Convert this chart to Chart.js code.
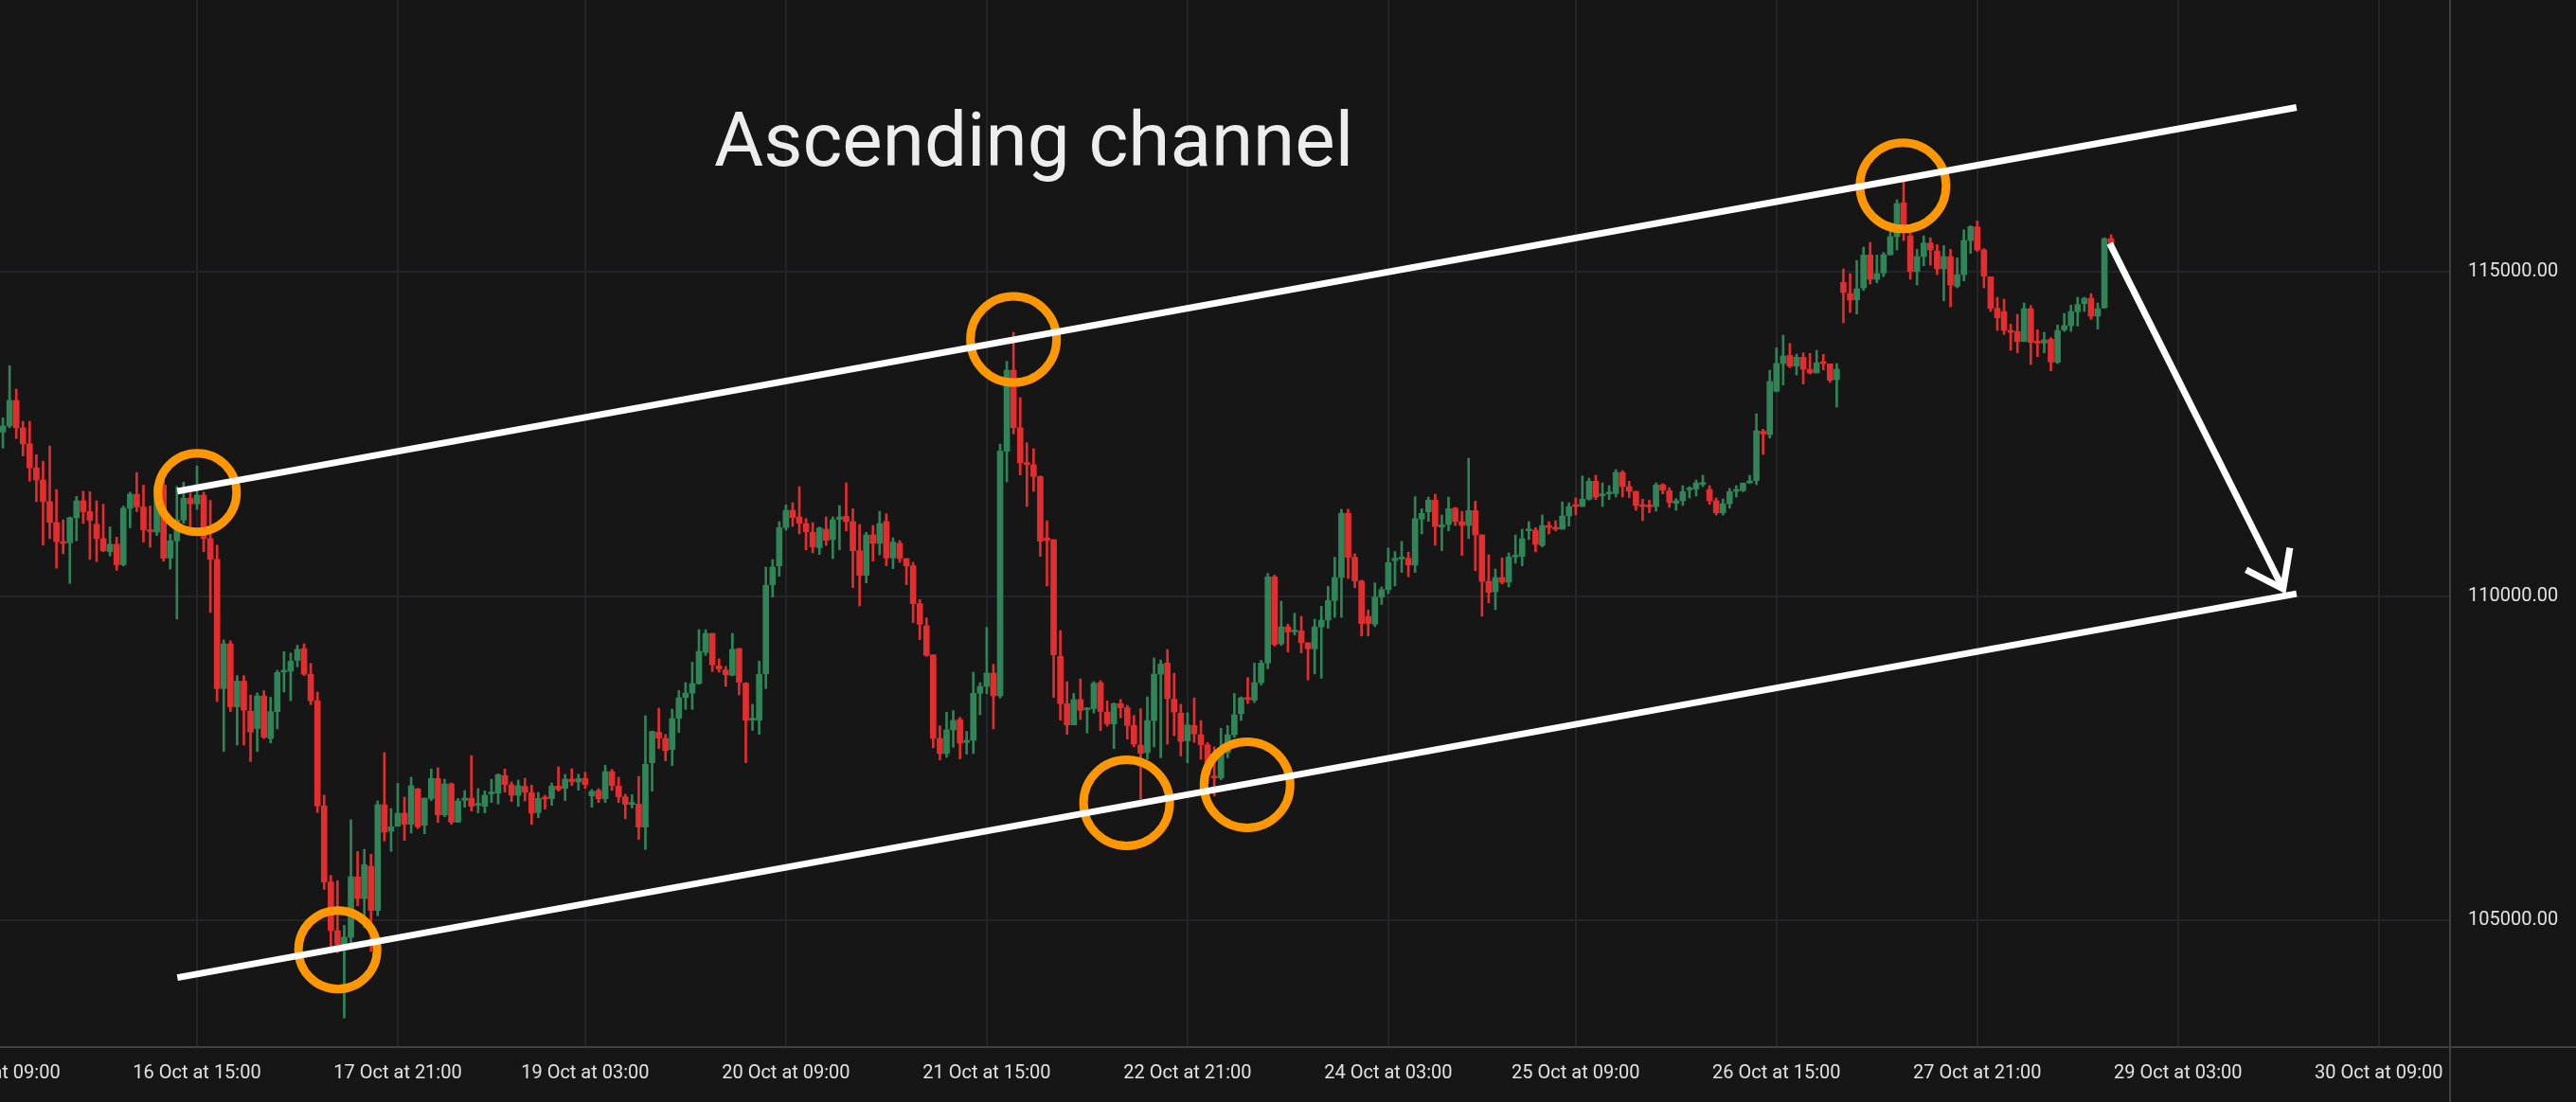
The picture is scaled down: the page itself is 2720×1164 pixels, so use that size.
<!DOCTYPE html>
<html>
<head>
<meta charset="utf-8">
<title>Ascending channel</title>
<script src="https://cdn.jsdelivr.net/npm/chart.js@4.4.1/dist/chart.umd.min.js"></script>
<style>
  html, body { margin: 0; padding: 0; background: #161616; overflow: hidden; }
  canvas { display: block; }
</style>
</head>
<body>
<canvas id="chart" width="2720" height="1164"></canvas>
<script>
// ======== Data (hourly candles) ========
const opens = [
  112530, 112624, 113019, 112597, 112349, 111980, 111792, 111457, 111135, 110840,
  110820, 111209, 111470, 111302, 111108, 110887, 110686, 110800, 110484, 111356,
  111571, 111376, 111021, 110987, 111712, 110585, 110853, 111175, 111510, 111423,
  111557, 110887, 110565, 108573, 109264, 108292, 108687, 108224, 107956, 108459,
  107802, 108218, 108828, 108841, 109009, 109190, 108794, 108386, 106763, 105589,
  104838, 104617, 104737, 105670, 105334, 105832, 105150, 106781, 106372, 106450,
  106650, 106479, 107025, 106465, 106878, 107185, 106625, 107102, 106513, 106849,
  106883, 106771, 106757, 106947, 106961, 107229, 107088, 106927, 107063, 106966,
  106659, 106888, 106874, 107068, 107034, 107175, 107132, 107185, 106917, 107000,
  106874, 107292, 107068, 106903, 106786, 106791, 106436, 107429, 107901, 107804,
  107633, 108115, 108436, 108504, 108650, 109132, 109424, 108924, 108860, 108778,
  109191, 108656, 108086, 108086, 108802, 110175, 110467, 111056, 111324, 111222,
  111119, 110983, 110745, 111032, 110871, 111183, 111231, 111149, 110701, 110321,
  110944, 110813, 111149, 110589, 110813, 110579, 110467, 109883, 109542, 109094,
  107804, 107570, 107936, 108096, 107741, 107775, 108500, 108607, 108812, 108461,
  112234, 113485, 112599, 112049, 112025, 111845, 110895, 110871, 109070, 108340,
  108012, 108404, 108247, 108263, 108664, 108211, 108028, 108341, 108278, 108002,
  107700, 107585, 108080, 108795, 108967, 108409, 108195, 107767, 108002, 107861,
  107705, 107220, 107194, 107585, 107861, 108185, 108430, 108393, 108664, 108967,
  110297, 109264, 109525, 109447, 109463, 109280, 109186, 109525, 109629, 109932,
  110287, 111278, 110599, 110234, 109687, 109567, 109984, 110099, 110547, 110573,
  110584, 110480, 111187, 111299, 111480, 111066, 111105, 111358, 111149, 111090,
  111319, 110944, 110228, 110068, 110287, 110214, 110603, 110613, 111007, 111017,
  110783, 111090, 111051, 111032, 111236, 111402, 111382, 111494, 111772, 111548,
  111577, 111582, 111908, 111689, 111616, 111397, 111392, 111382, 111718, 111626,
  111431, 111470, 111640, 111650, 111723, 111645, 111470, 111285, 111426, 111616,
  111626, 111747, 111782, 112541, 112492, 113160, 113588, 113714, 113549, 113685,
  113500, 113442, 113602, 113583, 113339, 114839, 114668, 114571, 114756, 115262,
  114887, 114985, 115267, 115545, 116070, 115559, 115009, 115238, 115447, 115325,
  115048, 115238, 114780, 114960, 115486, 115695, 115340, 114926, 114440, 114391,
  114089, 114084, 113928, 114435, 113914, 113904, 113962, 113607, 114108, 114172,
  114386, 114513, 114595, 114318, 114449, 115515
];
const highs = [
  112751, 113556, 113194, 112697, 112697, 112181, 112080, 112315, 111644, 111175,
  111222, 111537, 111618, 111611, 111470, 111417, 111068, 110907, 111390, 111604,
  111906, 111712, 111390, 111720, 111805, 110954, 111691, 111758, 111591, 112007,
  111604, 111477, 110786, 109324, 109311, 108774, 108774, 108473, 108506, 108540,
  108439, 108855, 109143, 109123, 109244, 109264, 108962, 108520, 106930, 105690,
  105609, 104919, 106548, 106059, 106092, 106017, 106840, 107584, 106723, 107112,
  106898, 107205, 107034, 106883, 107331, 107351, 107175, 107117, 106878, 107000,
  107540, 107029, 106995, 107175, 107258, 107331, 107132, 107161, 107190, 107083,
  106971, 106927, 107117, 107365, 107248, 107336, 107253, 107282, 107015, 107029,
  107390, 107326, 107205, 106942, 106937, 107219, 108154, 107920, 108271, 107867,
  108256, 108543, 108665, 108981, 109483, 109483, 109424, 109031, 108914, 109425,
  109191, 108666, 108330, 108997, 110448, 110564, 111149, 111406, 111441, 111689,
  111197, 111134, 111066, 111222, 111222, 111397, 111747, 111348, 111105, 110983,
  111090, 111309, 111270, 110900, 110856, 110579, 110520, 109946, 109664, 109094,
  107999, 108208, 108233, 108130, 107911, 108826, 108666, 109518, 108948, 112346,
  113621, 114069, 113062, 112365, 112273, 111854, 111163, 110871, 109469, 108680,
  108498, 108722, 108278, 108680, 108696, 108383, 108352, 108404, 108315, 108158,
  108263, 108445, 109045, 109014, 109176, 108810, 108331, 108200, 108430, 108080,
  107741, 107673, 107960, 108002, 108498, 108445, 108743, 108967, 109009, 110349,
  110323, 109922, 109567, 109734, 109687, 109280, 109645, 109843, 110151, 110599,
  111340, 111340, 110652, 110245, 109786, 110203, 110141, 110740, 110688, 110845,
  110678, 111533, 111348, 111528, 111572, 111251, 111528, 111368, 111309, 112127,
  111465, 110944, 110637, 110418, 110589, 110667, 110944, 111032, 111149, 111056,
  111251, 111149, 111163, 111455, 111441, 111514, 111854, 111820, 111864, 111747,
  111704, 111952, 111937, 111772, 111616, 111494, 111480, 111747, 111733, 111674,
  111504, 111704, 111689, 111791, 111864, 111704, 111514, 111499, 111660, 111704,
  111747, 111864, 112813, 112575, 113485, 113831, 114026, 113899, 113734, 113753,
  113744, 113792, 113729, 113583, 113588, 115048, 114975, 115179, 115384, 115457,
  115262, 115301, 115632, 116114, 116396, 115603, 115350, 115559, 115530, 115423,
  115408, 115350, 115218, 115652, 115715, 115788, 115360, 114926, 114610, 114581,
  114196, 114347, 114522, 114483, 114109, 114070, 113987, 114182, 114362, 114488,
  114610, 114610, 114668, 114522, 115530, 115574
];
const lows = [
  112282, 112597, 112429, 112161, 111772, 111457, 110786, 110887, 110431, 110652,
  110196, 110853, 111121, 110565, 110531, 110686, 110619, 110397, 110464, 111054,
  111302, 110833, 110753, 110934, 110538, 110417, 109646, 111121, 111041, 111336,
  110686, 109747, 108372, 107601, 108218, 107701, 107701, 107447, 107601, 107802,
  107735, 107950, 108520, 108386, 108908, 108774, 108325, 106662, 105475, 104583,
  104496, 103490, 104583, 105220, 104885, 104517, 105067, 106221, 106061, 106450,
  106231, 106343, 106411, 106333, 106844, 106509, 106596, 106479, 106509, 106742,
  106684, 106655, 106655, 106815, 106791, 106976, 106830, 106757, 106840, 106479,
  106581, 106713, 106771, 106990, 106844, 107078, 107005, 107034, 106742, 106815,
  106815, 107000, 106815, 106567, 106732, 106246, 106090, 106990, 107648, 107458,
  107385, 107896, 108251, 108251, 108641, 109084, 108835, 108826, 108607, 108768,
  108476, 107429, 107926, 107867, 108573, 109985, 110306, 111017, 111076, 110959,
  110715, 110667, 110642, 110783, 110579, 110715, 111007, 110131, 109849, 110204,
  110540, 110637, 110467, 110423, 110520, 110175, 109591, 109328, 109070, 107658,
  107473, 107512, 107668, 107488, 107561, 107570, 108169, 108495, 107950, 108427,
  111762, 112502, 111869, 111382, 111616, 110613, 110155, 108437, 108086, 107867,
  108012, 108096, 107887, 108195, 107924, 107992, 107647, 108122, 107793, 107673,
  106865, 107480, 107673, 107506, 107715, 107845, 107533, 107428, 107741, 107480,
  107115, 106917, 107167, 107506, 107819, 108080, 108341, 108357, 108628, 108878,
  109228, 109238, 109139, 109400, 109123, 108706, 108800, 108732, 109504, 109671,
  109671, 110271, 110130, 109384, 109384, 109530, 109870, 110036, 110156, 110365,
  110297, 110365, 110959, 111153, 110783, 110701, 111007, 111090, 110628, 110886,
  110394, 109688, 109897, 109790, 110189, 110141, 110506, 110467, 110871, 110686,
  110759, 110959, 111007, 111032, 111080, 111251, 111382, 111480, 111489, 111382,
  111489, 111528, 111528, 111519, 111324, 111163, 111285, 111309, 111577, 111368,
  111324, 111397, 111514, 111543, 111689, 111416, 111251, 111251, 111358, 111528,
  111611, 111738, 111718, 112185, 112439, 113150, 113257, 113524, 113412, 113271,
  113427, 113442, 113490, 113296, 112916, 114216, 114376, 114352, 114717, 114814,
  114834, 114931, 115262, 115340, 115486, 114887, 114800, 115097, 115106, 114960,
  114556, 114464, 114756, 114863, 115287, 115316, 114756, 114391, 114099, 114035,
  113792, 113753, 113928, 113573, 113695, 113753, 113476, 113588, 114084, 114084,
  114167, 114391, 114269, 114118, 114440, 115413
];
const closes = [
  112624, 113019, 112597, 112349, 111980, 111792, 111457, 111135, 110840, 110813,
  111209, 111470, 111302, 111168, 110887, 110699, 110800, 110484, 111356, 111571,
  111376, 111021, 110994, 111700, 110585, 110853, 111175, 111510, 111423, 111557,
  110887, 110565, 108573, 109264, 108292, 108687, 108238, 107902, 108459, 107822,
  108218, 108821, 108841, 108996, 109177, 108794, 108386, 106763, 105589, 104838,
  104617, 104737, 105670, 105334, 105857, 105150, 106781, 106358, 106440, 106650,
  106479, 107073, 106440, 106883, 107185, 106625, 107102, 106513, 106840, 106883,
  106757, 106781, 106927, 106956, 107243, 107093, 106927, 107073, 106976, 106655,
  106878, 106869, 107068, 107015, 107175, 107137, 107185, 107093, 106986, 106874,
  107292, 107078, 106903, 106786, 106796, 106436, 107404, 107910, 107808, 107618,
  108110, 108431, 108504, 108650, 109147, 109424, 108938, 108875, 108787, 109177,
  108671, 108086, 108116, 108792, 110165, 110448, 111056, 111324, 111212, 111124,
  110993, 110759, 111051, 110861, 111178, 111222, 111149, 110701, 110321, 110944,
  110813, 111119, 110589, 110832, 110579, 110467, 109883, 109566, 109084, 107804,
  107570, 107936, 108082, 107731, 107775, 108500, 108607, 108812, 108461, 112234,
  113485, 112599, 112054, 112030, 111845, 110847, 110861, 109094, 108340, 108013,
  108404, 108237, 108263, 108654, 108221, 108028, 108341, 108278, 108002, 107715,
  107574, 108080, 108795, 108951, 108419, 108211, 107757, 108012, 107872, 107705,
  107246, 107194, 107585, 107861, 108169, 108430, 108404, 108664, 108967, 110297,
  109254, 109525, 109447, 109463, 109280, 109186, 109525, 109629, 109932, 110287,
  111278, 110599, 110234, 109577, 109577, 109984, 110099, 110516, 110584, 110584,
  110480, 111194, 111275, 111480, 111075, 111100, 111348, 111149, 111090, 111319,
  110944, 110228, 110058, 110287, 110214, 110603, 110628, 110886, 111022, 110798,
  111090, 111056, 111032, 111236, 111382, 111382, 111494, 111772, 111528, 111562,
  111587, 111908, 111689, 111616, 111397, 111382, 111377, 111713, 111635, 111445,
  111470, 111611, 111655, 111747, 111738, 111470, 111285, 111426, 111611, 111630,
  111742, 111767, 112550, 112502, 113310, 113588, 113705, 113549, 113685, 113500,
  113442, 113597, 113588, 113330, 113500, 114683, 114571, 114741, 115262, 114887,
  114975, 115267, 115545, 116056, 115705, 115009, 115238, 115447, 115340, 115048,
  115238, 114800, 114960, 115486, 115700, 115340, 114936, 114440, 114294, 114099,
  114070, 113928, 114435, 113914, 113904, 113953, 113612, 114099, 114172, 114391,
  114498, 114595, 114318, 114435, 115515, 115423
];

// x axis: candle index where each label sits
const tickIndex = [-1, 29, 59, 87, 117, 147, 177, 207, 235, 265, 295, 325, 355];
const tickLabels = [
  '15 Oct at 09:00', '16 Oct at 15:00', '17 Oct at 21:00', '19 Oct at 03:00',
  '20 Oct at 09:00', '21 Oct at 15:00', '22 Oct at 21:00', '24 Oct at 03:00',
  '25 Oct at 09:00', '26 Oct at 15:00', '27 Oct at 21:00', '29 Oct at 03:00',
  '30 Oct at 09:00'
];
const priceTicks = [105000, 110000, 115000];

// drawings: [candle index, price]
const upperLine = [[26.07, 111617], [342.7, 117539]];
const lowerLine = [[26.07, 104114], [342.7, 110037]];
const arrowLine = [[314.8, 115442], [340.7, 110111]];
const touchIdx = [29.04, 50.04, 151.0, 167.9, 185.9, 283.9];
const touchPrice = [111598, 104544, 113960, 106810, 107088, 116330];

const titleText = 'Ascending channel';

// ======== Styles ========
const GREEN = '#2f8558';
const RED = '#e22e2e';
const GRID = '#252529';
const AXIS = '#404040';
const TEXT = '#e2e2e2';
const LINE_W = 7;

Chart.defaults.font.family = 'Roboto, "Noto Sans", sans-serif';

const idx = closes.map((_, i) => i);
const candleColors = idx.map(i => closes[i] >= opens[i] ? GREEN : RED);
const toPts = arr => arr.map(p => ({ x: p[0], y: p[1] }));

// ======== Plugins ========
const decor = {
  id: 'decor',
  beforeDraw(chart) {
    const ctx = chart.ctx;
    ctx.save();
    ctx.fillStyle = '#161616';
    ctx.fillRect(0, 0, chart.width, chart.height);
    ctx.restore();
  },
  afterDatasetsDraw(chart) {
    const { ctx, scales: { x, y } } = chart;
    // arrow head
    const [a, b] = arrowLine;
    const x1 = x.getPixelForValue(a[0]), y1 = y.getPixelForValue(a[1]);
    const x2 = x.getPixelForValue(b[0]), y2 = y.getPixelForValue(b[1]);
    const ang = Math.atan2(y2 - y1, x2 - x1);
    const len = 44, spread = Math.PI / 5;
    ctx.save();
    ctx.strokeStyle = '#ffffff';
    ctx.lineWidth = LINE_W;
    ctx.beginPath();
    ctx.moveTo(x2 - len * Math.cos(ang - spread), y2 - len * Math.sin(ang - spread));
    ctx.lineTo(x2, y2);
    ctx.lineTo(x2 - len * Math.cos(ang + spread), y2 - len * Math.sin(ang + spread));
    ctx.stroke();
    ctx.restore();
  },
  afterDraw(chart) {
    const { ctx, chartArea } = chart;
    ctx.save();
    // axis lines run across the whole canvas
    ctx.strokeStyle = AXIS;
    ctx.lineWidth = 2;
    ctx.beginPath();
    ctx.moveTo(chartArea.right + 1, 0);
    ctx.lineTo(chartArea.right + 1, chart.height);
    ctx.moveTo(0, chartArea.bottom + 1);
    ctx.lineTo(chart.width, chartArea.bottom + 1);
    ctx.stroke();
    // title text
    ctx.fillStyle = '#ededed';
    ctx.font = '80px Roboto, "Noto Sans", sans-serif';
    ctx.textAlign = 'left';
    ctx.textBaseline = 'alphabetic';
    ctx.fillText(titleText, 754, 175);
    ctx.restore();
  }
};

// ======== Chart ========
new Chart(document.getElementById('chart'), {
  type: 'bar',
  data: {
    datasets: [
      {
        label: 'wicks',
        data: idx.map(i => ({ x: i, y: [lows[i], highs[i]] })),
        backgroundColor: candleColors,
        barThickness: 2,
        grouped: false,
        order: 5
      },
      {
        label: 'bodies',
        data: idx.map(i => ({ x: i, y: [opens[i], closes[i]] })),
        backgroundColor: candleColors,
        barThickness: 6,
        minBarLength: 2,
        grouped: false,
        order: 4
      },
      {
        type: 'line',
        label: 'touches',
        data: touchIdx.map((v, i) => ({ x: v, y: touchPrice[i] })),
        showLine: false,
        pointRadius: [41.5, 41.5, 45.5, 45.5, 45.5, 45.5],
        pointBorderWidth: 9,
        pointBorderColor: '#ff9800',
        pointBackgroundColor: 'rgba(0,0,0,0)',
        order: 3
      },
      {
        type: 'line',
        label: 'upper',
        data: toPts(upperLine),
        borderColor: '#ffffff',
        borderWidth: LINE_W,
        pointRadius: 0,
        order: 2
      },
      {
        type: 'line',
        label: 'lower',
        data: toPts(lowerLine),
        borderColor: '#ffffff',
        borderWidth: LINE_W,
        pointRadius: 0,
        order: 2
      },
      {
        type: 'line',
        label: 'arrow',
        data: toPts(arrowLine),
        borderColor: '#ffffff',
        borderWidth: LINE_W,
        pointRadius: 0,
        order: 1
      }
    ]
  },
  options: {
    responsive: false,
    animation: false,
    devicePixelRatio: 1,
    layout: { padding: 0, autoPadding: false },
    plugins: { legend: { display: false }, tooltip: { enabled: false } },
    scales: {
      x: {
        type: 'linear',
        min: -0.433,
        max: 365.5,
        offset: false,
        afterBuildTicks: s => { s.ticks = tickIndex.map(v => ({ value: v })); },
        afterFit: s => { s.height = 59; s.paddingLeft = 0; s.paddingRight = 0; },
        grid: { color: GRID, lineWidth: 2, drawTicks: false, offset: false },
        border: { display: false },
        ticks: {
          color: TEXT,
          font: { size: 20 },
          padding: 17,
          maxRotation: 0,
          minRotation: 0,
          autoSkip: false,
          callback: v => tickLabels[tickIndex.indexOf(v)]
        }
      },
      y: {
        type: 'linear',
        position: 'right',
        min: 103056,
        max: 119197,
        beginAtZero: false,
        afterBuildTicks: s => { s.ticks = priceTicks.map(v => ({ value: v })); },
        afterFit: s => { s.width = 134; s.paddingTop = 0; s.paddingBottom = 0; },
        grid: { color: GRID, lineWidth: 2, drawTicks: false },
        border: { display: false },
        ticks: {
          color: TEXT,
          font: { size: 20 },
          padding: 20,
          callback: v => Number(v).toFixed(2)
        }
      }
    }
  },
  plugins: [decor]
});
</script>
</body>
</html>
